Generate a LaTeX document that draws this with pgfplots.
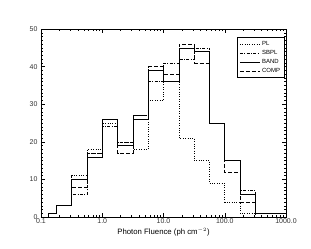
\documentclass[border=0pt]{standalone}
\usepackage{fontspec}
\setmainfont{Liberation Sans}
\usepackage{pgfplots}
\pgfplotsset{compat=1.18}
\begin{document}
\begin{tikzpicture}
\useasboundingbox (0,0) rectangle (311bp,249bp);
\begin{axis}[
 at={(41bp,32bp)}, anchor=south west,
 scale only axis, width=245bp, height=188bp,
 xmode=log, xmin=0.1, xmax=1000, ymin=0, ymax=50,
 xtick={0.1,1,10,100,1000}, xticklabels={0.1,1.0,10.0,100.0,1000.0},
 ytick={0,10,...,50},
 minor y tick num=9,
 tick align=inside,
 major tick length=4bp, minor tick length=2bp,
 every tick/.style={black, line width=0.4bp},
 axis line style={line width=0.6bp},
 tick label style={font=\fontsize{7}{8}\selectfont, text=black!80},
 xticklabel style={yshift=2bp},
 /pgf/number format/assume math mode=true,
 xlabel={Photon Fluence (ph cm$^{-2}$)},
 xlabel style={yshift=2bp},
 label style={font=\fontsize{7.8}{9}\selectfont},
 legend style={at={(0.993,0.956)}, anchor=north east, font=\fontsize{6}{7}\selectfont, draw=black, line width=0.5bp, inner xsep=2bp, inner ysep=1.5bp, row sep=-0.5bp},
 legend cell align=left,
 legend image code/.code={\draw[#1] (0bp,0bp) -- (20bp,0bp);},
]
% PL
\addplot[const plot, black, line width=0.6bp, dash pattern=on 0.8bp off 1.6bp] coordinates {
(0.13,0) (0.13,1) (0.17783,3) (0.31623,11) (0.56234,18) (1,25) (1.77828,20) (3.16228,18) (5.62341,31) (10,36) (17.7828,21) (31.6228,15) (56.2341,9) (100,4) (177.828,1) (316.228,0) (562.341,0) (1000,0)};
\addlegendentry{PL}
% SBPL
\addplot[const plot, black, line width=0.6bp, dash pattern=on 3bp off 1.5bp on 0.8bp off 1.5bp] coordinates {
(0.13,0) (0.13,1) (0.17783,3) (0.31623,6) (0.56234,17) (1,24) (1.77828,20) (3.16228,27) (5.62341,36) (10,41) (17.7828,42) (31.6228,45) (56.2341,25) (100,15) (177.828,7) (316.228,1) (562.341,1) (1000,1)};
\addlegendentry{SBPL}
% BAND
\addplot[const plot, black, line width=0.6bp] coordinates {
(0.13,0) (0.13,1) (0.17783,3) (0.31623,10) (0.56234,16) (1,26) (1.77828,19) (3.16228,26) (5.62341,39) (10,36) (17.7828,45) (31.6228,44) (56.2341,25) (100,15) (177.828,6) (316.228,1) (562.341,1) (1000,1)};
\addlegendentry{BAND}
% COMP
\addplot[const plot, black, line width=0.6bp, dash pattern=on 4bp off 2bp] coordinates {
(0.13,0) (0.13,1) (0.17783,3) (0.31623,8) (0.56234,17) (1,26) (1.77828,17) (3.16228,27) (5.62341,40) (10,38) (17.7828,46) (31.6228,41) (56.2341,25) (100,12) (177.828,4) (316.228,1) (562.341,1) (1000,1)};
\addlegendentry{COMP}
\end{axis}
\end{tikzpicture}
\end{document}
